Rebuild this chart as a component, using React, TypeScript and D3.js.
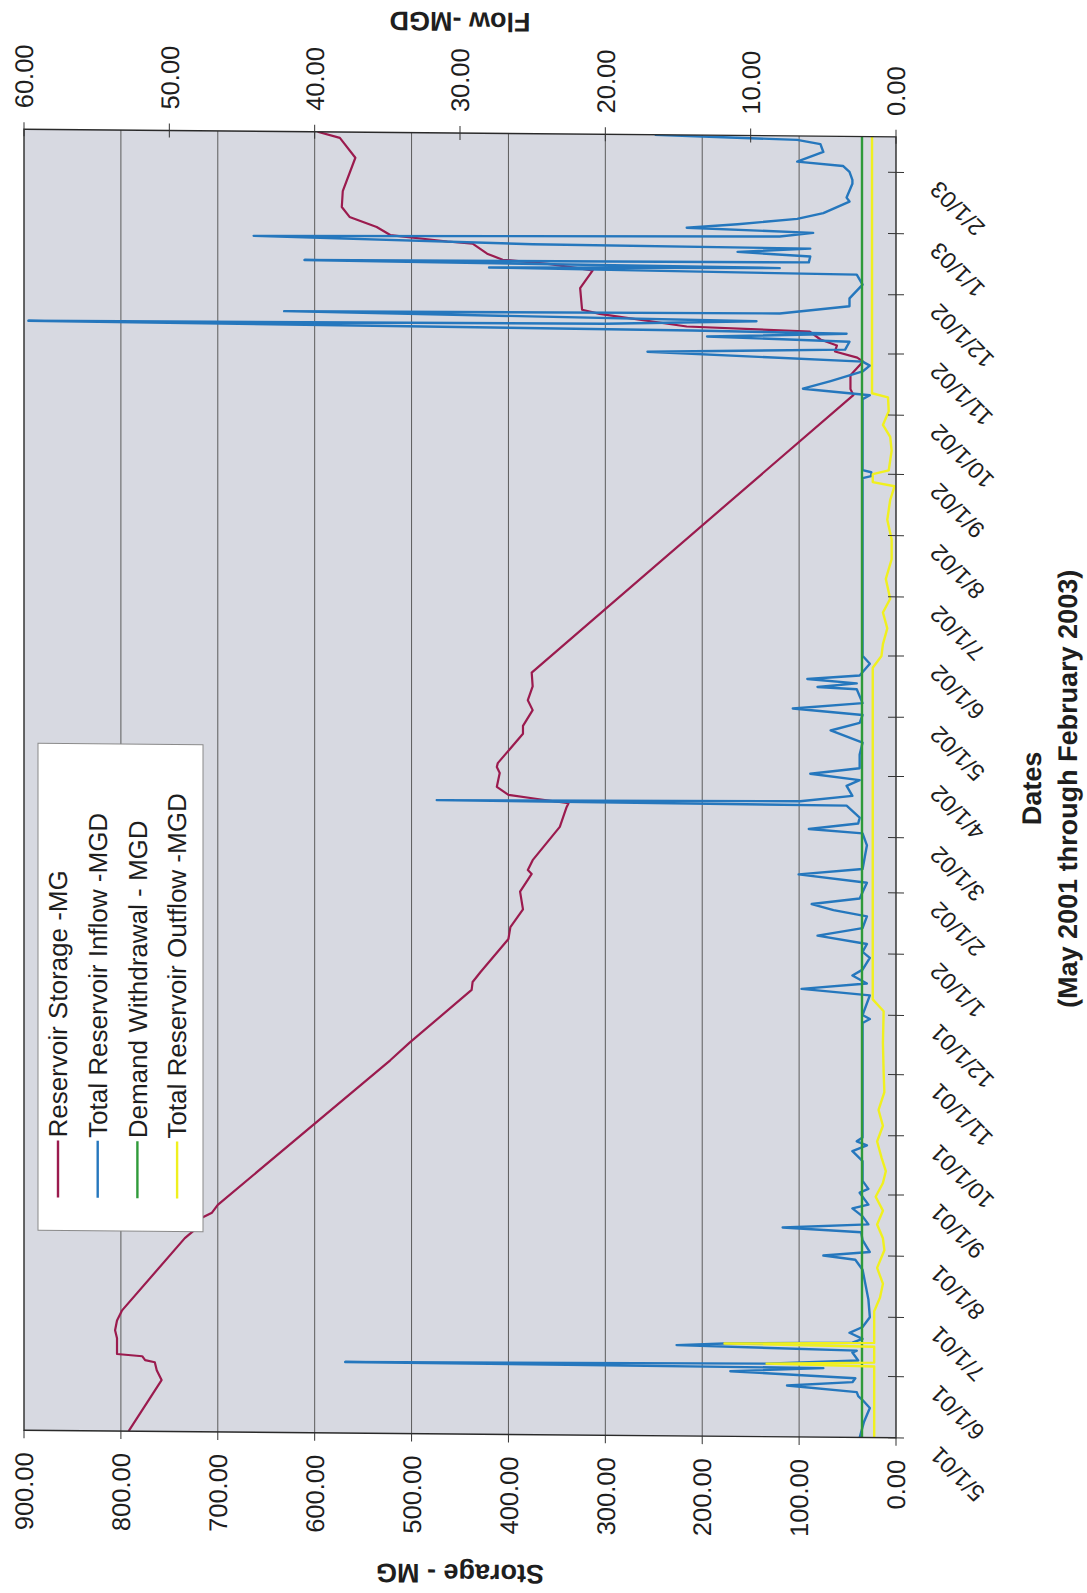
import * as d3 from 'd3'

const parseDate = d3.timeParse('%m/%d/%y')

// Reservoir storage, MG (left axis)
const storageDates = ['5/1/01', '5/27/01', '6/1/01', '6/5/01', '6/6/01', '6/8/01', '6/9/01', '6/17/01', '6/21/01', '6/26/01', '7/1/01', '8/7/01', '8/12/01', '8/17/01', '8/20/01', '8/24/01', '11/6/01', '11/15/01', '12/12/01', '12/16/01', '12/21/01', '1/7/02', '1/13/02', '1/22/02', '1/31/02', '2/9/02', '2/11/02', '2/16/02', '3/5/02', '3/15/02', '3/17/02', '3/19/02', '3/21/02', '3/25/02', '4/1/02', '4/4/02', '4/6/02', '4/21/02', '4/25/02', '5/3/02', '5/8/02', '5/15/02', '5/22/02', '10/11/02', '10/14/02', '10/21/02', '10/28/02', '10/30/02', '11/2/02', '11/5/02', '11/8/02', '11/12/02', '11/14/02', '11/20/02', '11/22/02', '12/3/02', '12/12/02', '12/15/02', '12/17/02', '12/20/02', '12/25/02', '12/26/02', '12/29/02', '1/2/03', '1/7/03', '1/12/03', '1/20/03', '2/6/03', '2/16/03', '2/19/03']
const storageValues = [792, 758, 763, 765, 775, 778, 804, 804, 806, 804, 799, 734, 722, 718, 706, 700, 522, 502, 438, 437, 429, 400, 398, 385, 388, 376, 380, 375, 347, 340, 338, 370, 400, 412, 409, 412, 411, 385, 385, 375, 380, 375, 376, 44, 47, 47, 34, 40, 63, 61, 78, 89, 216, 306, 324, 326, 313, 357, 406, 422, 437, 463, 522, 536, 564, 572, 571, 558, 574, 597]

// Total reservoir inflow, MGD (right axis)
const inflowDates = ['5/1/01', '5/9/01', '5/16/01', '5/20/01', '5/22/01', '5/24/01', '5/27/01', '5/29/01', '5/31/01', '6/3/01', '6/5/01', '6/6/01', '6/7/01', '6/9/01', '6/13/01', '6/14/01', '6/16/01', '6/17/01', '6/18/01', '6/20/01', '6/23/01', '6/26/01', '7/1/01', '7/10/01', '7/25/01', '7/30/01', '8/1/01', '8/3/01', '8/9/01', '8/13/01', '8/15/01', '8/17/01', '8/21/01', '8/25/01', '8/27/01', '9/2/01', '9/4/01', '9/8/01', '9/18/01', '9/23/01', '9/26/01', '9/28/01', '9/30/01', '11/27/01', '11/29/01', '12/1/01', '12/11/01', '12/14/01', '12/17/01', '12/21/01', '12/24/01', '12/30/01', '1/2/02', '1/6/02', '1/10/02', '1/14/02', '1/20/02', '1/23/02', '1/26/02', '1/29/02', '2/6/02', '2/10/02', '2/13/02', '2/25/02', '3/3/02', '3/5/02', '3/8/02', '3/11/02', '3/17/02', '3/18/02', '3/19/02', '3/22/02', '3/27/02', '3/30/02', '4/2/02', '4/5/02', '4/12/02', '4/18/02', '4/24/02', '4/28/02', '5/2/02', '5/5/02', '5/8/02', '5/15/02', '5/16/02', '5/18/02', '5/20/02', '5/22/02', '5/28/02', '6/1/02', '8/30/02', '8/31/02', '9/2/02', '9/3/02', '10/9/02', '10/11/02', '10/14/02', '10/18/02', '10/23/02', '10/26/02', '10/28/02', '11/1/02', '11/3/02', '11/7/02', '11/9/02', '11/11/02', '11/12/02', '11/14/02', '11/15/02', '11/17/02', '11/20/02', '11/21/02', '11/25/02', '11/29/02', '12/6/02', '12/11/02', '12/13/02', '12/14/02', '12/16/02', '12/17/02', '12/20/02', '12/22/02', '12/24/02', '12/25/02', '12/28/02', '12/30/02', '1/1/03', '1/3/03', '1/5/03', '1/8/03', '1/11/03', '1/17/03', '1/19/03', '1/26/03', '1/28/03', '2/1/03', '2/4/03', '2/6/03', '2/11/03', '2/15/03', '2/17/03', '2/19/03']
const inflowValues = [2.5, 2.2, 1.8, 2.3, 2.6, 2.7, 7.5, 3.0, 2.8, 11.4, 5.0, 37.9, 8.9, 2.6, 3.0, 2.7, 15.1, 11.8, 3.0, 2.3, 3.2, 2.3, 1.8, 1.9, 2.3, 2.8, 5.0, 1.8, 2.3, 2.4, 7.8, 1.9, 2.3, 3.0, 1.9, 2.5, 1.9, 2.3, 2.3, 3.0, 2.0, 2.7, 2.3, 2.3, 1.8, 2.3, 1.8, 6.5, 2.0, 3.0, 2.3, 1.8, 2.3, 2.0, 5.4, 2.3, 2.0, 4.3, 5.8, 2.5, 2.0, 6.7, 2.3, 2.0, 2.3, 6.0, 2.6, 2.5, 3.4, 31.6, 6.6, 3.0, 3.4, 2.5, 5.9, 2.5, 2.5, 2.3, 4.5, 2.5, 2.3, 7.1, 2.3, 2.7, 5.4, 2.7, 6.1, 2.5, 1.8, 2.3, 2.3, 1.7, 1.7, 2.3, 2.3, 1.8, 6.4, 4.5, 2.3, 1.8, 2.3, 17.1, 3.5, 3.2, 13.0, 3.4, 14.0, 59.7, 20.0, 9.6, 42.1, 8.0, 3.2, 3.2, 2.3, 2.7, 28.0, 8.0, 40.7, 6.0, 5.9, 10.9, 5.9, 25.0, 44.2, 8.0, 5.7, 14.4, 10.9, 6.8, 5.0, 3.2, 3.4, 3.0, 3.0, 3.2, 3.65, 6.8, 5.0, 5.2, 6.8, 16.6]

// Demand withdrawal, MGD (right axis)
const demandDates = ['5/1/01', '2/19/03']
const demandValues = [2.34, 2.34]

// Total reservoir outflow, MGD (right axis)
const outflowDates = ['5/1/01', '6/6/01', '6/7/01', '6/8/01', '6/16/01', '6/17/01', '6/18/01', '7/4/01', '7/11/01', '7/18/01', '7/26/01', '8/4/01', '8/10/01', '8/17/01', '8/24/01', '8/31/01', '9/7/01', '9/13/01', '9/20/01', '9/28/01', '10/6/01', '10/14/01', '10/23/01', '11/2/01', '11/17/01', '12/3/01', '12/9/01', '5/26/02', '6/1/02', '6/7/02', '6/15/02', '6/23/02', '6/30/02', '7/10/02', '7/20/02', '7/30/02', '8/9/02', '8/19/02', '8/26/02', '8/28/02', '9/1/02', '9/3/02', '9/13/02', '9/20/02', '9/26/02', '10/3/02', '10/10/02', '10/12/02', '2/19/03']
const outflowValues = [1.5, 1.5, 8.9, 1.5, 1.5, 11.8, 1.5, 1.5, 1.1, 0.9, 1.3, 0.8, 0.9, 1.3, 0.9, 1.4, 0.9, 0.7, 1.0, 1.3, 0.9, 1.2, 0.8, 0.85, 0.9, 0.85, 1.6, 1.6, 1.0, 0.9, 0.6, 0.9, 0.4, 0.7, 0.3, 0.3, 0.6, 0.4, 0.1, 1.6, 1.6, 0.5, 0.3, 0.4, 0.9, 0.5, 0.55, 1.65, 1.65]

const storageTicks = [0, 100, 200, 300, 400, 500, 600, 700, 800, 900]
const flowTicks = [0, 10, 20, 30, 40, 50, 60]
const dateTicks = ['5/1/01', '6/1/01', '7/1/01', '8/1/01', '9/1/01', '10/1/01', '11/1/01', '12/1/01', '1/1/02', '2/1/02', '3/1/02', '4/1/02', '5/1/02', '6/1/02', '7/1/02', '8/1/02', '9/1/02', '10/1/02', '11/1/02', '12/1/02', '1/1/03', '2/1/03']

const seriesNames = ['Reservoir Storage -MG', 'Total Reservoir Inflow -MGD', 'Demand Withdrawal - MGD', 'Total Reservoir Outflow -MGD']
const seriesColors = ['#9b1b4e', '#2577bd', '#2f9a3a', '#f0f01e']

// the chart is laid out upright (W x H) and then turned a quarter turn to the left
const W = 1593
const plot = { left: 163, right: 1464, top: 24, bottom: 896 }

type Pt = { date: Date; value: number }
const zip = (dates: string[], values: number[]): Pt[] =>
  dates.map((d, i) => ({ date: parseDate(d) as Date, value: values[i] }))

export default function App() {
  const x = d3
    .scaleTime()
    .domain([parseDate('5/1/01') as Date, parseDate('2/19/03') as Date])
    .range([plot.left, plot.right])
  const yStorage = d3.scaleLinear().domain([0, 900]).range([plot.bottom, plot.top])
  const yFlow = d3.scaleLinear().domain([0, 60]).range([plot.bottom, plot.top])

  const storageLine = d3.line<Pt>().x(d => x(d.date)).y(d => yStorage(d.value))
  const flowLine = d3.line<Pt>().x(d => x(d.date)).y(d => yFlow(d.value))

  const paths = [
    storageLine(zip(storageDates, storageValues)),
    flowLine(zip(inflowDates, inflowValues)),
    flowLine(zip(demandDates, demandValues)),
    flowLine(zip(outflowDates, outflowValues)),
  ]
  const fmt = d3.format('.2f')
  const midY = (plot.top + plot.bottom) / 2
  const midX = (plot.left + plot.right) / 2

  return (
    <svg
      width={1087}
      height={1593}
      style={{ position: 'absolute', left: 0, top: 0, background: '#fff' }}
      fontFamily="'Liberation Sans', Arial, sans-serif"
      fill="#1e1e1e"
    >
      <defs>
        <clipPath id="plotClip">
          <rect x={plot.left} y={plot.top} width={plot.right - plot.left} height={plot.bottom - plot.top} />
        </clipPath>
      </defs>
      {/* the scan is slightly sheared */}
      <g transform="skewY(0.5)">
        <g transform={`translate(0,${W}) rotate(-90)`}>
          <rect
            x={plot.left}
            y={plot.top}
            width={plot.right - plot.left}
            height={plot.bottom - plot.top}
            fill="#d7d9e1"
          />

          {/* gridlines */}
          {storageTicks.slice(1, -1).map(t => (
            <line key={t} x1={plot.left} x2={plot.right} y1={yStorage(t)} y2={yStorage(t)} stroke="#5c5c5c" strokeWidth={1} />
          ))}

          {/* series */}
          <g clipPath="url(#plotClip)" fill="none" strokeLinejoin="round">
            <path d={paths[0] ?? ''} stroke={seriesColors[0]} strokeWidth={2.2} />
            <path d={paths[1] ?? ''} stroke={seriesColors[1]} strokeWidth={2.4} />
            <path d={paths[2] ?? ''} stroke={seriesColors[2]} strokeWidth={2.4} />
            <path d={paths[3] ?? ''} stroke={seriesColors[3]} strokeWidth={2.4} />
          </g>

          <rect
            x={plot.left}
            y={plot.top}
            width={plot.right - plot.left}
            height={plot.bottom - plot.top}
            fill="none"
            stroke="#2a2a2a"
            strokeWidth={1.4}
          />

          {/* storage axis */}
          {storageTicks.map(t => (
            <g key={t}>
              <line x1={plot.left - 8} x2={plot.left} y1={yStorage(t)} y2={yStorage(t)} stroke="#333" />
              <text x={plot.left - 22} y={yStorage(t)} dy="0.36em" textAnchor="end" fontSize={25.5}>
                {fmt(t)}
              </text>
            </g>
          ))}

          {/* flow axis */}
          {flowTicks.map(t => (
            <g key={t}>
              <line x1={plot.right - 7} x2={plot.right + 7} y1={yFlow(t)} y2={yFlow(t)} stroke="#333" />
              <text x={plot.right + 21} y={yFlow(t)} dy="0.36em" fontSize={25.5}>
                {fmt(t)}
              </text>
            </g>
          ))}

          {/* date axis */}
          {dateTicks.map(s => {
            const px = x(parseDate(s) as Date)
            return (
              <g key={s}>
                <line x1={px} x2={px} y1={plot.bottom - 8} y2={plot.bottom + 8} stroke="#333" />
                <text
                  transform={`translate(${px - 7},${plot.bottom + 44}) rotate(-45)`}
                  textAnchor="end"
                  fontSize={23.5}
                >
                  {s}
                </text>
              </g>
            )
          })}

          {/* axis titles */}
          <text
            transform={`translate(23,${midY}) rotate(-90)`}
            dy="0.36em"
            textAnchor="middle"
            fontSize={27}
            fontWeight="bold"
          >
            Storage - MG
          </text>
          <text
            transform={`translate(1575,${midY}) rotate(-90)`}
            dy="0.36em"
            textAnchor="middle"
            fontSize={27}
            fontWeight="bold"
          >
            Flow -MGD
          </text>
          <text x={midX} y={1031} dy="0.36em" textAnchor="middle" fontSize={27} fontWeight="bold">
            Dates
          </text>
          <text x={midX} y={1067} dy="0.36em" textAnchor="middle" fontSize={27} fontWeight="bold">
            (May 2001 through February 2003)
          </text>

          {/* legend */}
          <rect x={363} y={38} width={487} height={165} fill="#fff" stroke="#8a8a8a" strokeWidth={1} />
          {seriesNames.map((name, i) => {
            const ly = 58 + i * 39.7
            return (
              <g key={name}>
                <line x1={396} x2={453} y1={ly} y2={ly} stroke={seriesColors[i]} strokeWidth={2.4} />
                <text x={456} y={ly} dy="0.36em" fontSize={26}>
                  {name}
                </text>
              </g>
            )
          })}
        </g>
      </g>
    </svg>
  )
}
